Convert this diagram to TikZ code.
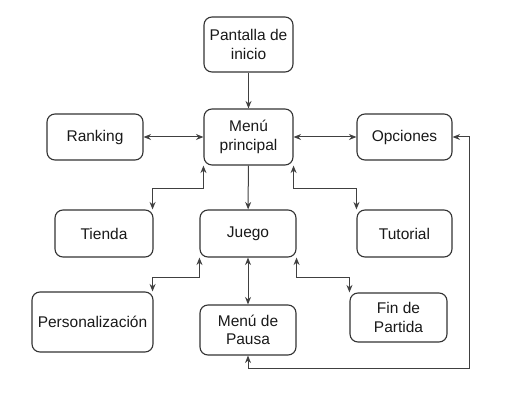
\documentclass[tikz,border=0pt]{standalone}
\usepackage{fontspec}
\setmainfont{Liberation Sans}
\usetikzlibrary{arrows.meta}
\begin{document}
\begin{tikzpicture}[x=1pt,y=-1pt,
  box/.style={draw=black!80, line width=1.1pt, rounded corners=8pt, inner sep=0pt,
    align=center, font=\fontsize{15.5}{18.5}\selectfont, text=black!90},
  conn/.style={draw=black!75, line width=1pt, -{Stealth[length=7.5pt,width=6pt]}},
  dconn/.style={draw=black!75, line width=1pt, {Stealth[length=7.5pt,width=6pt]}-{Stealth[length=7.5pt,width=6pt]}}]
\useasboundingbox (0,0) rectangle (510,403);
\node[box, minimum width=89pt, minimum height=55pt] (pi) at (248.5,44.5) {Pantalla de\\inicio};
\node[box, minimum width=89pt, minimum height=56pt] (mp) at (248.5,137) {Menú\\principal};
\node[box, minimum width=96pt, minimum height=46pt] (rk) at (95,137) {Ranking};
\node[box, minimum width=95pt, minimum height=46pt] (op) at (404.5,137) {Opciones};
\node[box, minimum width=98pt, minimum height=47pt] (ti) at (104,233.5) {Tienda};
\node[box, minimum width=96pt, minimum height=47pt] (ju) at (248,233.5) {Juego};
\node[box, minimum width=95pt, minimum height=47pt] (tu) at (404.5,233.5) {Tutorial};
\node[box, minimum width=121pt, minimum height=60pt] (pe) at (92.5,322) {Personalización};
\node[box, minimum width=96pt, minimum height=50pt] (pa) at (248,330) {Menú de\\Pausa};
\node[box, minimum width=97pt, minimum height=49pt] (fp) at (398.5,317.5) {Fin de\\Partida};
\coordinate (c1) at (469,368);
\draw[conn] (pi) -- (mp);
\draw[dconn] (rk) -- (mp);
\draw[dconn] (mp) -- (op);
\draw[conn] (mp) -- (ju);
\draw[dconn] (mp.south west) -- ++(0,23) -| ([xshift=-1pt]ti.north east);
\draw[dconn] (mp.south east) -- ++(0,23) -| (tu.north west);
\draw[dconn] (ju) -- (pa);
\draw[dconn] (ju.south west) -- ++(0,20) -| ([xshift=-1pt]pe.north east);
\draw[dconn] (ju.south east) -- ++(0,20) -| (fp.north west);
\draw[dconn] (pa.south) |- (c1) |- (op.east);
\end{tikzpicture}
\end{document}
